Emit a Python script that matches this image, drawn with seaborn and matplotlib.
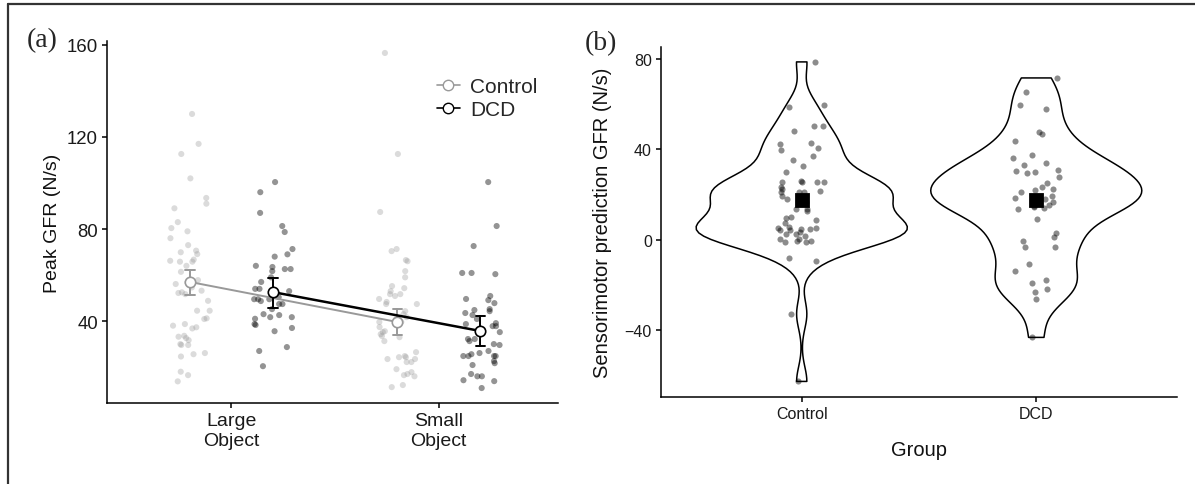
import numpy as np
import pandas as pd
import seaborn as sns
import matplotlib.pyplot as plt
from matplotlib.lines import Line2D

sns.set_theme(style="ticks")
plt.rcParams['font.family'] = ['Liberation Sans', 'DejaVu Sans']

np.random.seed(3)

# ---------------- data ----------------
objects = ["Large\nObject", "Small\nObject"]
groups = ["Control", "DCD"]

ctrl_large = [130, 117, 112.6, 102, 93.5, 91, 89, 83, 80.4, 79,
              76, 73, 70.6, 69.9, 69.1, 66.7, 66.2, 65.8, 65.8, 64, 61.4,
              57.8, 56.8, 56.1, 54.6, 53.2, 52.5, 52.2, 51.7, 48.8, 44.5,
              44.5, 41.2, 40.9, 38.7, 38, 37.3, 36.8, 33.6, 33.2, 32.6,
              31.7, 30, 29.6, 29.6, 26.1, 25.6, 24.6, 18, 16.5, 13.8]
dcd_large = [100.4, 96, 87, 81.3, 78.7, 71.3, 69, 68, 64, 63.5, 62.6, 62.6,
             61.7, 59, 57, 54, 54, 53, 50.4, 49.5, 49.5, 49.5, 48.7, 47.4,
             47.4, 45.2, 43, 42.6, 41.7, 41.7, 41, 38.7, 38.3, 37, 35.6,
             28.7, 27, 20.4]
ctrl_small = [156.5, 112.6, 87.4, 71.3, 70.4, 66.5, 66, 61.7, 59, 55.2,
              54.3, 53, 51.7, 51.7, 50.9, 49.6, 48.3, 47.4, 47.4, 44.3, 43,
              41.7, 40.9, 39.6, 39.6, 37.4, 35.6, 35.2, 34.3, 33.5, 33, 31.3,
              26.5, 24.8, 24.3, 24.3, 23.5, 23.5, 22.2, 22.2, 19.1, 17.8, 17,
              16.5, 16, 12.2, 11.3]
dcd_small = [100.4, 81.3, 72.6, 60.9, 60.4, 60.9, 50.9, 49.6, 49.1, 47.8,
             45.2, 44.8, 44.3, 43.5, 42.6, 40.9, 39.1, 38.7, 37.8, 37.8, 35.2,
             32.2, 32.2, 31.3, 30, 29.6, 27, 26.1, 25.6, 24.8, 24.8, 24.8,
             24.8, 22.6, 21.7, 20.9, 17, 16, 16, 14.3, 13.9, 10.9]

# group means and 95% CI (Large, Small)
mean_ctrl = [57.0, 39.6]
lo_ctrl = [51.3, 33.9]
hi_ctrl = [62.0, 45.2]
mean_dcd = [52.6, 35.7]
lo_dcd = [45.6, 29.0]
hi_dcd = [58.7, 42.2]

ctrl_pred = [78.7, 58.8, 59.7, 50.4, 48.2, 50.4, 42.9, 40.7, 42.4, 39.8,
             37.1, 35.4, 32.7, 30.1, 25.6, 25.6, 25.6, 25.6, 26.1, 23.4,
             21.7, 21.2, 21.2, 22.5, 21.2, 19.5, 18.1, 18.1, 18.6, 16.8,
             13.7, 13.7, 12.8, 9.7, 10.1, 8.8, 7.5, 5.7, 4.4, 4.9, 5.3, 4.4,
             3.5, 2.6, 4.9, 5.3, 1.8, -0.4, -0.4, 0.4, 0.4, 2.6, -0.9, -0.9,
             -8.0, -9.3, -33.0, -62.8]
dcd_pred = [71.6, 65.4, 59.7, 57.9, 47.7, 46.9, 43.8, 37.6, 36.2, 33.1, 34.0,
            30.5, 29.6, 27.8, 30.9, 30.0, 25.2, 23.4, 22.1, 22.5, 21.2, 19.5,
            18.6, 16.8, 18.1, 14.6, 14.1, 15.0, 15.5, 13.7, 9.3, 1.3, 3.1,
            -0.4, -3.1, -3.1, -11.0, -13.7, -18.1, -19.0, -21.7, -23.4,
            -26.5, -43.3]

# ---------------- tables ----------------
dfA = pd.DataFrame({
    "Object": [objects[0]] * len(ctrl_large) + [objects[1]] * len(ctrl_small)
              + [objects[0]] * len(dcd_large) + [objects[1]] * len(dcd_small),
    "Group": ["Control"] * (len(ctrl_large) + len(ctrl_small))
             + ["DCD"] * (len(dcd_large) + len(dcd_small)),
    "GFR": ctrl_large + ctrl_small + dcd_large + dcd_small,
})

rows = []
for g, m, lo, hi in [("Control", mean_ctrl, lo_ctrl, hi_ctrl),
                     ("DCD", mean_dcd, lo_dcd, hi_dcd)]:
    for i, obj in enumerate(objects):
        for v in (lo[i], m[i], hi[i]):
            rows.append({"Object": obj, "Group": g, "val": v})
dfS = pd.DataFrame(rows)

dfB = pd.DataFrame({
    "Group": ["Control"] * len(ctrl_pred) + ["DCD"] * len(dcd_pred),
    "pred": ctrl_pred + dcd_pred,
})

# ---------------- figure ----------------
fig = plt.figure(figsize=(11.95, 4.85), dpi=100)
axA = fig.add_axes([107 / 1195, 1 - 404 / 485, 451 / 1195, 362 / 485])
axB = fig.add_axes([661 / 1195, 1 - 398 / 485, 516 / 1195, 350 / 485])

ctrl_col = "#999999"

# panel (a) points
for g, col, a in [("Control", "#999999", 0.35), ("DCD", "black", 0.42)]:
    sub = dfA[dfA.Group == g]
    sns.stripplot(data=sub, x="Object", y="GFR", hue="Group", order=objects,
                  hue_order=groups, palette={"Control": col, "DCD": col},
                  dodge=True, jitter=0.2, size=4.4, alpha=a, linewidth=0,
                  legend=False, ax=axA, zorder=1)

# panel (a) means + CI
sns.pointplot(data=dfS, x="Object", y="val", hue="Group", order=objects,
              hue_order=groups, palette={"Control": ctrl_col, "DCD": "black"},
              estimator="median", errorbar=("pi", 100), dodge=0.4,
              capsize=0.045, markers="o", markersize=7.5,
              markerfacecolor="white", markeredgewidth=1.2, linewidth=1.4,
              legend=False, ax=axA)

# layering: control stuff below DCD stuff, markers above error bars
for ln in axA.lines:
    c = np.array(plt.matplotlib.colors.to_rgb(ln.get_color()))
    is_ctrl = c.mean() > 0.3
    has_marker = ln.get_marker() not in (None, "None", "", " ")
    if is_ctrl:
        ln.set_zorder(4 if has_marker else 3.5)
    else:
        ln.set_zorder(6 if has_marker else 5)
        if has_marker:
            ln.set_linewidth(1.8)

axA.set_xlim(-0.6, 1.575)
axA.set_ylim(4.4, 161.7)
axA.set_yticks([40, 80, 120, 160])
axA.set_xlabel("")
axA.set_ylabel("Peak GFR (N/s)", fontsize=14, labelpad=4, color="#111111")

handles = [Line2D([], [], color=ctrl_col, marker="o", mfc="white",
                  mec=ctrl_col, markersize=7.5, lw=1.2),
           Line2D([], [], color="black", marker="o", mfc="white",
                  mec="black", markersize=7.5, lw=1.2)]
axA.legend(handles, groups, loc="upper left",
           bbox_to_anchor=(437 / 1195, 1 - 78 / 485),
           bbox_transform=fig.transFigure, frameon=False, fontsize=15,
           handlelength=1.1, handletextpad=0.5, labelspacing=0.2,
           borderpad=0, borderaxespad=0)

# panel (b)
sns.violinplot(data=dfB, x="Group", y="pred", order=groups, fill=False,
               color="black", linewidth=1.1, cut=0, density_norm="width",
               width=0.9, inner=None, bw_adjust=0.65, ax=axB)
sns.stripplot(data=dfB, x="Group", y="pred", order=groups, color="black",
              alpha=0.45, size=4.4, jitter=0.1, linewidth=0, ax=axB)
sns.pointplot(data=dfB, x="Group", y="pred", order=groups, estimator="mean",
              errorbar=None, color="black", markers="s", markersize=8,
              linestyles="none", ax=axB)
axB.set_xlim(-0.6, 1.6)
axB.set_ylim(-69.7, 85.3)
axB.set_yticks([-40, 0, 40, 80])
axB.set_xlabel("Group", fontsize=14.5, labelpad=14, color="#111111")
axB.set_ylabel("Sensorimotor prediction GFR (N/s)", fontsize=14.5,
               labelpad=9, color="#111111")

for ax, fs_x, fs_y in [(axA, 14, 13.4), (axB, 11.5, 11.5)]:
    sns.despine(ax=ax)
    for s in ("left", "bottom"):
        ax.spines[s].set_linewidth(1.1)
        ax.spines[s].set_color("black")
    ax.tick_params(axis="both", length=3.5, width=1.1, color="black",
                   pad=3, labelcolor="#1a1a1a")
    ax.tick_params(axis="x", labelsize=fs_x)
    ax.tick_params(axis="y", labelsize=fs_y)

# panel letters
fig.text(42 / 1195, 1 - 41 / 485, "(a)", family="Liberation Serif",
         fontsize=20, ha="center", va="center")
fig.text(601 / 1195, 1 - 44 / 485, "(b)", family="Liberation Serif",
         fontsize=20, ha="center", va="center")

# frame lines (top and left)
fig.add_artist(Line2D([8 / 1195, 1.0], [1 - 5 / 485, 1 - 5 / 485],
                      transform=fig.transFigure, color="#333333", lw=1.6))
fig.add_artist(Line2D([8 / 1195, 8 / 1195], [0, 1 - 5 / 485],
                      transform=fig.transFigure, color="#333333", lw=1.6))

fig.savefig("out.png", dpi=100)
